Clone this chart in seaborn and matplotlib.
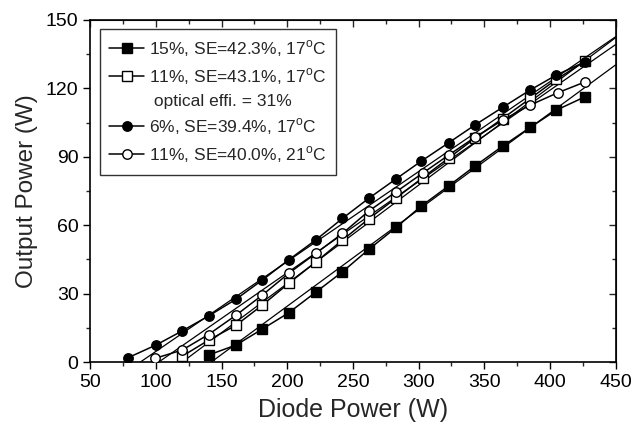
import numpy as np
import pandas as pd
import matplotlib
matplotlib.use("Agg")
import matplotlib.pyplot as plt
from matplotlib.lines import Line2D
from matplotlib.ticker import MultipleLocator
import seaborn as sns

# diode power (W) / output power (W)
x_sq_f = [140, 161, 181, 201, 222, 242, 262, 283, 302, 323, 343, 364, 385, 405, 427]
y_sq_f = [3.1, 7.5, 14.5, 21.6, 30.8, 39.6, 49.4, 59.1, 68.4, 77.3, 86.0, 94.7, 102.9, 110.5, 116.4]

x_sq_o = [120, 140, 161, 181, 201, 222, 242, 262, 283, 303, 323, 343, 364, 385, 405, 427]
y_sq_o = [2.6, 9.6, 16.2, 25.0, 34.5, 44.0, 53.5, 62.8, 72.0, 80.8, 89.5, 98.2, 106.8, 115.6, 124.0, 132.0]

x_ci_f = [79, 100, 120, 140, 161, 181, 201, 222, 242, 262, 283, 302, 323, 343, 364, 385, 405, 427]
y_ci_f = [2.0, 7.5, 13.7, 20.2, 27.6, 36.0, 44.8, 53.7, 63.0, 71.8, 80.4, 88.1, 96.2, 104.0, 111.7, 119.3, 125.9, 131.7]

x_ci_o = [99, 120, 140, 161, 181, 201, 222, 242, 262, 283, 303, 323, 343, 364, 385, 406, 427]
y_ci_o = [1.6, 5.3, 12.1, 20.6, 29.4, 38.9, 47.8, 56.4, 66.2, 74.7, 82.8, 90.8, 98.6, 106.1, 112.7, 118.1, 122.9]

labels = [r"15%, SE=42.3%, 17$^\mathrm{o}$C", r"11%, SE=43.1%, 17$^\mathrm{o}$C",
          r"6%, SE=39.4%, 17$^\mathrm{o}$C", r"11%, SE=40.0%, 21$^\mathrm{o}$C"]
# linear fits: slope (SE) and lasing threshold (W)
fit_slope = [0.423, 0.431, 0.394, 0.400]
fit_thr = [142, 120, 88, 102]

series = [(x_sq_f, y_sq_f, "s", "black"),
          (x_sq_o, y_sq_o, "s", "white"),
          (x_ci_f, y_ci_f, "o", "black"),
          (x_ci_o, y_ci_o, "o", "white")]

sns.set_style("ticks")
plt.rcParams["font.family"] = ["Liberation Sans", "DejaVu Sans"]
plt.rcParams["mathtext.fontset"] = "custom"
plt.rcParams["mathtext.rm"] = "Liberation Sans"

fig = plt.figure(figsize=(6.32, 4.25), dpi=100)
ax = fig.add_axes([0.143, 0.148, 0.831, 0.805])

for (xs, ys, mk, fc), lab, k, t in zip(series, labels, fit_slope, fit_thr):
    ax.axline((t, 0), slope=k, color="black", lw=0.9, zorder=1)
    df = pd.DataFrame({"x": xs, "y": ys})
    sns.lineplot(data=df, x="x", y="y", ax=ax, color="black", lw=1.1,
                 marker=mk, markersize=6.8, markerfacecolor=fc,
                 markeredgecolor="black", markeredgewidth=1.0, zorder=3)

ax.set_xlim(50, 450)
ax.set_ylim(0, 150)
ax.xaxis.set_major_locator(MultipleLocator(50))
ax.xaxis.set_minor_locator(MultipleLocator(25))
ax.yaxis.set_major_locator(MultipleLocator(30))
ax.yaxis.set_minor_locator(MultipleLocator(15))
ax.tick_params(which="major", direction="out", length=5, width=1, labelsize=14, colors="black")
ax.tick_params(which="minor", direction="out", length=3, width=1)
for s in ax.spines.values():
    s.set_linewidth(1.2)
    s.set_color("black")

top = ax.secondary_xaxis("top")
top.xaxis.set_major_locator(MultipleLocator(50))
top.xaxis.set_minor_locator(MultipleLocator(25))
top.tick_params(which="major", direction="in", length=5, width=1, labeltop=False)
top.tick_params(which="minor", direction="in", length=3, width=1)
right = ax.secondary_yaxis("right")
right.yaxis.set_major_locator(MultipleLocator(30))
right.yaxis.set_minor_locator(MultipleLocator(15))
right.tick_params(which="major", direction="in", length=5, width=1, labelright=False)
right.tick_params(which="minor", direction="in", length=3, width=1)

ax.set_xlabel("Diode Power (W)", fontsize=18, labelpad=5)
ax.set_ylabel("Output Power (W)", fontsize=17.5, labelpad=6)

handles = []
for xs, ys, mk, fc in series:
    handles.append(Line2D([], [], color="black", lw=1.1, marker=mk, markersize=6.8,
                          markerfacecolor=fc, markeredgecolor="black"))
blank = Line2D([], [], color="none")
leg_handles = [handles[0], handles[1], blank, handles[2], handles[3]]
leg_labels = [labels[0], labels[1], " optical effi. = 31%", labels[2], labels[3]]
leg = ax.legend(leg_handles, leg_labels, loc="upper left", bbox_to_anchor=(0.018, 0.975),
                borderaxespad=0, fontsize=12.5, frameon=True, fancybox=False,
                handlelength=2.0, handletextpad=0.3, labelspacing=0.42, borderpad=0.55)
leg.get_frame().set_edgecolor("black")
leg.get_frame().set_linewidth(1.0)

fig.savefig("out.png", dpi=100)
